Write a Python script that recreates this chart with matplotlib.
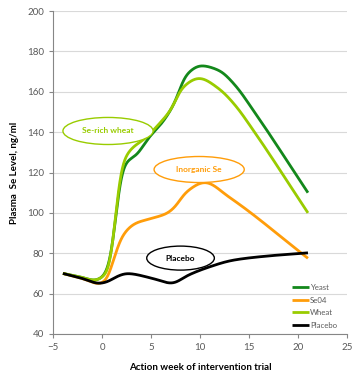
import numpy as np
import matplotlib.pyplot as plt
from matplotlib.patches import Ellipse

plt.rcParams['font.family'] = ['Lato', 'DejaVu Sans']

# data (weeks, plasma Se in ng/ml)
yeast_x = [-4, -2, -0.8, 0, 0.8, 1.35, 1.9, 2.5, 3.5, 4.7, 6.1, 7.45, 8.5, 10.1, 11.9, 13.57, 15.3, 21]
yeast_y = [70, 68, 66.5, 68, 75, 96, 119, 125.5, 128.6, 137, 144.5, 155, 168, 173, 170.7, 163.3, 151.7, 110]
se04_x = [-4, -2, -0.3, 0.5, 1.15, 2.0, 3.37, 5.07, 6.6, 7.45, 8.5, 10.5, 12.9, 21]
se04_y = [70, 67.5, 64.8, 67, 76.6, 88.2, 94.8, 97.3, 99.7, 103, 110, 115.2, 108, 77.5]
wheat_x = [-4, -2, -0.8, 0, 0.8, 1.33, 1.73, 2.0, 3.0, 4.4, 5.7, 7.1, 8.1, 9.9, 11.9, 13.57, 15.3, 21]
wheat_y = [70, 68, 66.5, 68, 73.3, 96.4, 116, 123.7, 131.9, 136.9, 143.5, 151.7, 161.6, 166.8, 161.6, 153.4, 141.8, 100]
placebo_x = [-4, -2, -0.3, 0.5, 1.6, 2.5, 5.1, 7.1, 8.8, 10.5, 13.4, 16.8, 21]
placebo_y = [70, 67.5, 65, 65.8, 68.7, 70, 67.6, 65.1, 69.2, 72.5, 76.6, 78.6, 80.2]


def smooth(xs, ys, n=1250, sigma=0.35):
    # monotone cubic through the read points, then a light gaussian blur
    x = np.asarray(xs, float)
    y = np.asarray(ys, float)
    h = np.diff(x)
    d = np.diff(y) / h
    m = np.zeros_like(y)
    for k in range(1, len(x) - 1):
        if d[k - 1] * d[k] > 0:
            w1 = 2 * h[k] + h[k - 1]
            w2 = h[k] + 2 * h[k - 1]
            m[k] = (w1 + w2) / (w1 / d[k - 1] + w2 / d[k])
    m[0] = d[0]
    m[-1] = d[-1]
    xx = np.linspace(x[0], x[-1], n)
    i = np.clip(np.searchsorted(x, xx) - 1, 0, len(x) - 2)
    t = (xx - x[i]) / h[i]
    h00 = 2 * t**3 - 3 * t**2 + 1
    h10 = t**3 - 2 * t**2 + t
    h01 = -2 * t**3 + 3 * t**2
    h11 = t**3 - t**2
    yy = h00 * y[i] + h10 * h[i] * m[i] + h01 * y[i + 1] + h11 * h[i] * m[i + 1]

    dx = xx[1] - xx[0]
    r = int(3 * sigma / dx)
    kern = np.exp(-0.5 * (np.arange(-r, r + 1) * dx / sigma)**2)
    kern /= kern.sum()
    steps = np.arange(1, r + 1) * dx
    left = y[0] - d[0] * steps[::-1]
    right = y[-1] + d[-1] * steps
    yy = np.convolve(np.concatenate([left, yy, right]), kern, mode='valid')
    return xx, yy


fig = plt.figure(figsize=(3.59, 3.83), dpi=100)
ax = fig.add_axes([0.148, 0.128, 0.819, 0.843])

series = [
    ("Yeast", yeast_x, yeast_y, "#13881b"),
    ("Se04", se04_x, se04_y, "#ff9d0a"),
    ("Wheat", wheat_x, wheat_y, "#99cc00"),
    ("Placebo", placebo_x, placebo_y, "black"),
]
for name, xs, ys, c in series:
    sx, sy = smooth(xs, ys)
    ax.plot(sx, sy, color=c, lw=2.0, label=name, solid_capstyle='butt')

# callout ellipses
notes = [
    ("Se-rich wheat", 0.6, 140.6, 9.2, 13.4, "#99cc00"),
    ("Inorganic Se", 9.9, 121.5, 9.2, 12.9, "#ff9d0a"),
    ("Placebo", 8.0, 77.6, 6.9, 11.9, "black"),
]
for txt, cx, cy, w, h, c in notes:
    ax.add_patch(Ellipse((cx, cy), w, h, facecolor='white', edgecolor=c, lw=1.0, zorder=3))
    ax.text(cx, cy, txt, color=c, fontsize=6, fontweight='bold', ha='center', va='center', zorder=4)

ax.set_xlim(-5, 25)
ax.set_ylim(40, 200)
ax.set_xticks(range(-5, 26, 5))
ax.set_yticks(range(40, 201, 20))
ax.grid(axis='y', color='#d9d9d9', lw=0.8)
ax.set_axisbelow(True)
for s in ['top', 'right']:
    ax.spines[s].set_visible(False)
for s in ['left', 'bottom']:
    ax.spines[s].set_color('#868686')
ax.tick_params(colors='#868686', labelcolor='#595959', labelsize=7, length=3, width=0.8)

ax.set_xlabel("Action week of intervention trial", fontsize=7, fontweight='bold', labelpad=8)
ax.set_ylabel("Plasma  Se Level, ng/ml", fontsize=7, fontweight='bold', labelpad=6)

leg = ax.legend(loc='lower right', bbox_to_anchor=(0.985, 0.0), frameon=False, fontsize=5.6,
                handlelength=2.2, handletextpad=0.1, labelspacing=0.7, borderaxespad=0.3)
for t in leg.get_texts():
    t.set_color('#595959')

fig.savefig("out.png", dpi=100)
